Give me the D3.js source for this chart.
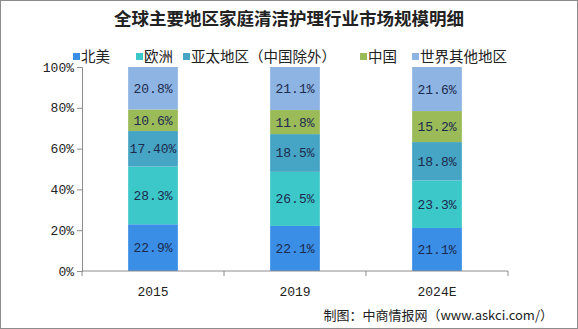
<!DOCTYPE html>
<html>
<head>
<meta charset="utf-8">
<script src="https://cdn.jsdelivr.net/npm/d3@7"></script>
<style>
body{margin:0;background:#fff;}
svg{display:block;}
</style>
</head>
<body>
<script>
var years = ["2015", "2019", "2024E"];
var regions = ["北美", "欧洲", "亚太地区（中国除外）", "中国", "世界其他地区"];
var northAmerica = [22.9, 22.1, 21.1];
var europe = [28.3, 26.5, 23.3];
var asiaPacific = [17.4, 18.5, 18.8];
var china = [10.6, 11.8, 15.2];
var restOfWorld = [20.8, 21.1, 21.6];
var labelText = [
  ["22.9%", "22.1%", "21.1%"],
  ["28.3%", "26.5%", "23.3%"],
  ["17.40%", "18.5%", "18.8%"],
  ["10.6%", "11.8%", "15.2%"],
  ["20.8%", "21.1%", "21.6%"]
];
var yTicks = [0, 20, 40, 60, 80, 100];
var colors = ["#3a8ee6", "#3cc7c9", "#46a4c4", "#9bbb59", "#8db4e2"];

var series = [northAmerica, europe, asiaPacific, china, restOfWorld];
var data = years.map(function(y, i){
  var row = {year: y};
  regions.forEach(function(r, j){ row[r] = series[j][i]; });
  return row;
});

var width = 578, height = 329;
var svg = d3.select("body").append("svg").attr("width", width).attr("height", height);

svg.append("rect").attr("x", 0.5).attr("y", 0.5).attr("width", width-1).attr("height", height-1)
  .attr("fill", "#fff").attr("stroke", "#8c8c8c");

var x = d3.scaleBand().domain(years).range([82, 508]).paddingInner(0.65).paddingOuter(0.325);
var y = d3.scaleLinear().domain([0, 100]).range([271, 67]);

var stacked = d3.stack().keys(regions)(data);

var g = svg.append("g");
g.selectAll("g.layer").data(stacked).enter().append("g")
  .attr("fill", function(d, i){ return colors[i]; })
  .selectAll("rect").data(function(d){ return d; }).enter().append("rect")
  .attr("x", function(d){ return x(d.data.year); })
  .attr("width", x.bandwidth())
  .attr("y", function(d){ return y(d[1]); })
  .attr("height", function(d){ return y(d[0]) - y(d[1]); });

g.selectAll("g.labels").data(stacked).enter().append("g")
  .each(function(layer, i){
    d3.select(this).selectAll("text").data(layer).enter().append("text")
      .attr("x", function(d){ return x(d.data.year) + x.bandwidth()/2; })
      .attr("y", function(d){ return (y(d[0]) + y(d[1]))/2 + 4.5; })
      .attr("text-anchor", "middle")
      .attr("font-family", "Liberation Mono, DejaVu Sans Mono, monospace")
      .attr("font-size", 13)
      .attr("fill", "#1c2a4e")
      .text(function(d, k){ return labelText[i][k]; });
  });

// y axis
var yAxis = svg.append("g").attr("transform", "translate(82,0)")
  .call(d3.axisLeft(y).tickValues(yTicks).tickSize(5).tickFormat(function(d){ return d + "%"; }));
yAxis.select(".domain").attr("stroke", "#8c8c8c");
yAxis.selectAll(".tick line").attr("stroke", "#8c8c8c");
yAxis.selectAll("text").attr("font-family", "Liberation Mono, DejaVu Sans Mono, monospace")
  .attr("font-size", 13).attr("fill", "#222").attr("x", -8);

// x axis with boundary ticks
var xAxis = svg.append("g").attr("transform", "translate(0,271)");
xAxis.append("line").attr("x1", 82).attr("x2", 508).attr("stroke", "#8c8c8c");
var bounds = [82].concat(years.map(function(yr){ return x(yr) + x.step()*0.675 + x.bandwidth()*0; }));
bounds = [82, 82 + x.step(), 82 + 2*x.step(), 82 + 3*x.step()];
xAxis.selectAll("line.tk").data(bounds).enter().append("line")
  .attr("x1", function(d){ return d; }).attr("x2", function(d){ return d; })
  .attr("y1", 0).attr("y2", 5).attr("stroke", "#8c8c8c");
xAxis.selectAll("text").data(years).enter().append("text")
  .attr("x", function(d){ return x(d) + x.bandwidth()/2; })
  .attr("y", 25)
  .attr("text-anchor", "middle")
  .attr("font-family", "Liberation Mono, DejaVu Sans Mono, monospace")
  .attr("font-size", 13).attr("fill", "#222")
  .text(function(d){ return d; });

// title
svg.append("text").attr("x", 289).attr("y", 25).attr("text-anchor", "middle")
  .attr("font-family", "Noto Sans CJK SC, sans-serif").attr("font-weight", "bold")
  .attr("font-size", 17.5).attr("fill", "#222")
  .text("全球主要地区家庭清洁护理行业市场规模明细");

// legend
var legendX = [73, 136, 183, 360, 412];
var legend = svg.selectAll("g.legend").data(regions).enter().append("g")
  .attr("transform", function(d, i){ return "translate(" + legendX[i] + ",57)"; });
legend.append("rect").attr("x", 0).attr("y", -4).attr("width", 7).attr("height", 7)
  .attr("fill", function(d, i){ return colors[i]; });
legend.append("text").attr("x", 8).attr("y", 5)
  .attr("font-family", "Noto Sans CJK SC, sans-serif").attr("font-size", 14.5).attr("fill", "#222")
  .text(function(d){ return d; });

// source
svg.append("text").attr("x", 553).attr("y", 320).attr("text-anchor", "end")
  .attr("font-family", "Noto Sans CJK SC, sans-serif").attr("font-size", 13).attr("fill", "#222")
  .text("制图：中商情报网（www.askci.com/）");
</script>
</body>
</html>
